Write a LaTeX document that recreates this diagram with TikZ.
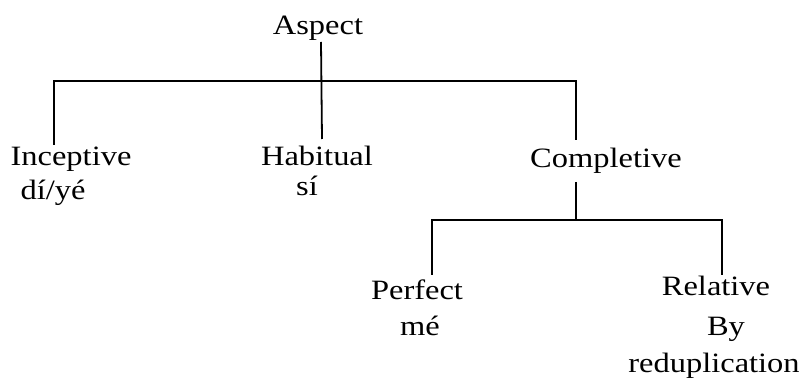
\documentclass[tikz,border=0pt]{standalone}
\usepackage{fontspec}
\setmainfont[FakeStretch=1.16]{Liberation Serif}
\begin{document}
\begin{tikzpicture}[x=1pt,y=-1pt,
  lbl/.style={anchor=base,inner sep=0pt,font=\fontsize{28}{34}\selectfont},
  br/.style={line width=1.8pt,line cap=butt}]
\useasboundingbox (0,0) rectangle (803,379);
% labels
\node[lbl] (asp) at (318,35) {Aspect};
\node[lbl] (inc) at (71,166) {Inceptive};
\node[lbl] (incv) at (53,200) {dí/yé};
\node[lbl] (hab) at (317,166) {Habitual};
\node[lbl] (habv) at (307,196) {sí};
\node[lbl] (com) at (606,168) {Completive};
\node[lbl] (per) at (417,299) {Perfect};
\node[lbl] (perv) at (420,335) {mé};
\node[lbl] (rel) at (716,295) {Relative};
\node[lbl] (relv1) at (726,335) {By};
\node[lbl] (relv2) at (714,372) {reduplication};
% junctions
\coordinate (a1) at (321,42);
\coordinate (a2) at (322,139);
\coordinate (bl) at (54,81);
\coordinate (br) at (576,81);
\coordinate (il) at (54,145);
\coordinate (cr) at (576,140);
\coordinate (c1) at (576,182);
\coordinate (cl) at (432,220);
\coordinate (crr) at (722,220);
\coordinate (pl) at (432,275);
\coordinate (rr) at (722,275);
% connectors
\draw[br] (a1) -- (a2);
\draw[br] (il) -- (bl) -- (br) -- (cr);
\draw[br] (c1) -- (c1 |- cl);
\draw[br] (pl) -- (cl) -- (crr) -- (rr);
\end{tikzpicture}
\end{document}
